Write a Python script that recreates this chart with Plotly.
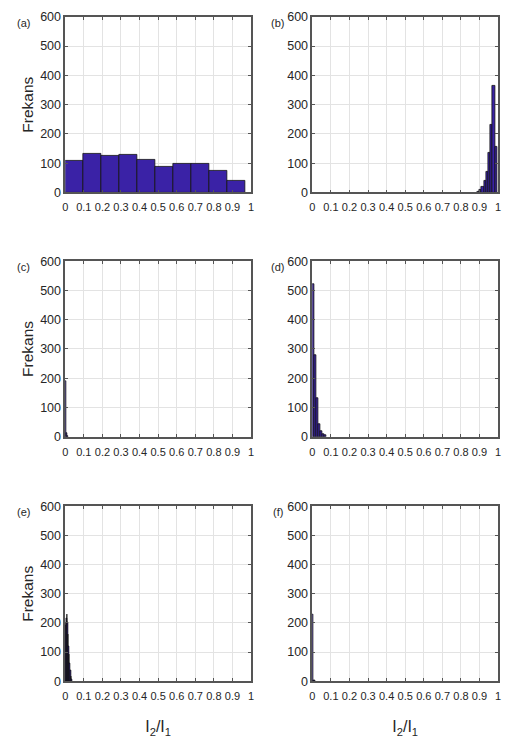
import plotly.graph_objects as go

W, H = 508, 749

# ---- data (bin start, bin width, counts) ----
a_start, a_width = 0.0, 0.097
a_counts = [108, 132, 125, 127, 113, 89, 99, 99, 75, 40]

b_start, b_width = 0.888, 0.0118
b_counts = [3, 8, 20, 40, 70, 135, 230, 365, 156]

c_start, c_width = 0.0, 0.006
c_counts = [190, 12, 3]

d_start, d_width = 0.0, 0.0105
d_counts = [520, 278, 133, 44, 21, 10, 5]

e_start, e_width = 0.0, 0.003
e_counts = [190, 200, 215, 230, 200, 160, 120, 90, 60, 35, 15, 5]

f_start, f_width = 0.0, 0.006
f_counts = [230, 3, 1]

panel_labels = ["(a)", "(b)", "(c)", "(d)", "(e)", "(f)"]
x_tickvals = [0, 0.1, 0.2, 0.3, 0.4, 0.5, 0.6, 0.7, 0.8, 0.9, 1]
x_ticktext = ["0", "0.1", "0.2", "0.3", "0.4", "0.5", "0.6", "0.7", "0.8", "0.9", "1"]
y_tickvals = [0, 100, 200, 300, 400, 500, 600]
y_label = "Frekans"
x_label = "I<sub>2</sub>/I<sub>1</sub>"

panels = [
    (a_start, a_width, a_counts),
    (b_start, b_width, b_counts),
    (c_start, c_width, c_counts),
    (d_start, d_width, d_counts),
    (e_start, e_width, e_counts),
    (f_start, f_width, f_counts),
]

# ---- layout geometry (pixels) ----
col_px = [(63, 251), (313, 501)]
row_px = [(10, 189), (259, 438), (509, 687)]
label_dx = [42, 35]

FONT = "Liberation Sans Narrow, Arial Narrow, Liberation Sans, Arial, sans-serif"
BAR_COLOR = "#3a22a6"
AX_COLOR = "#555555"

fig = go.Figure()
layout = dict(
    width=W, height=H,
    margin=dict(l=0, r=0, t=0, b=0),
    paper_bgcolor="white", plot_bgcolor="white",
    showlegend=False,
    font=dict(family=FONT, size=12, color="#262626"),
    bargap=0,
)
annotations = []

for i, (start, width, counts) in enumerate(panels):
    r, c = divmod(i, 2)
    n = i + 1
    xa = "x" if n == 1 else f"x{n}"
    ya = "y" if n == 1 else f"y{n}"
    centers = [start + width * (k + 0.5) for k in range(len(counts))]
    fig.add_trace(go.Bar(
        x=centers, y=counts, width=[width] * len(counts),
        marker=dict(color=BAR_COLOR, line=dict(color="#111111", width=0.8)),
        xaxis=xa, yaxis=ya,
    ))
    x0, x1 = col_px[c]
    y0, y1 = row_px[r]
    xkey = "xaxis" if n == 1 else f"xaxis{n}"
    ykey = "yaxis" if n == 1 else f"yaxis{n}"
    layout[xkey] = dict(
        domain=[x0 / W, x1 / W], anchor=ya, range=[0, 1],
        tickvals=x_tickvals, ticktext=x_ticktext, tickangle=0,
        showline=True, mirror="ticks", linecolor=AX_COLOR, linewidth=1.5,
        ticks="inside", ticklen=3, tickcolor=AX_COLOR,
        showgrid=True, gridcolor="#e3e3e3", gridwidth=1,
        zeroline=False, tickfont=dict(size=11), fixedrange=True,
        ticklabelstandoff=4,
        title=dict(text=x_label if r == 2 else "", font=dict(size=16), standoff=20),
    )
    layout[ykey] = dict(
        domain=[1 - y1 / H, 1 - y0 / H], anchor=xa, range=[0, 600],
        tickvals=y_tickvals,
        showline=True, mirror="ticks", linecolor=AX_COLOR, linewidth=1.5,
        ticks="inside", ticklen=3, tickcolor=AX_COLOR,
        showgrid=True, gridcolor="#e3e3e3", gridwidth=1,
        zeroline=False, tickfont=dict(size=12.5), fixedrange=True,
        title=dict(text=y_label if c == 0 else "", font=dict(size=15.5), standoff=3),
    )
    annotations.append(dict(
        text=panel_labels[i], xref="paper", yref="paper",
        x=(x0 - label_dx[c]) / W, y=1 - (y0 + 6) / H,
        xanchor="center", yanchor="middle", showarrow=False,
        font=dict(size=11, family=FONT, color="#262626"),
    ))

layout["annotations"] = annotations
fig.update_layout(**layout)
fig.write_html("out.html")
